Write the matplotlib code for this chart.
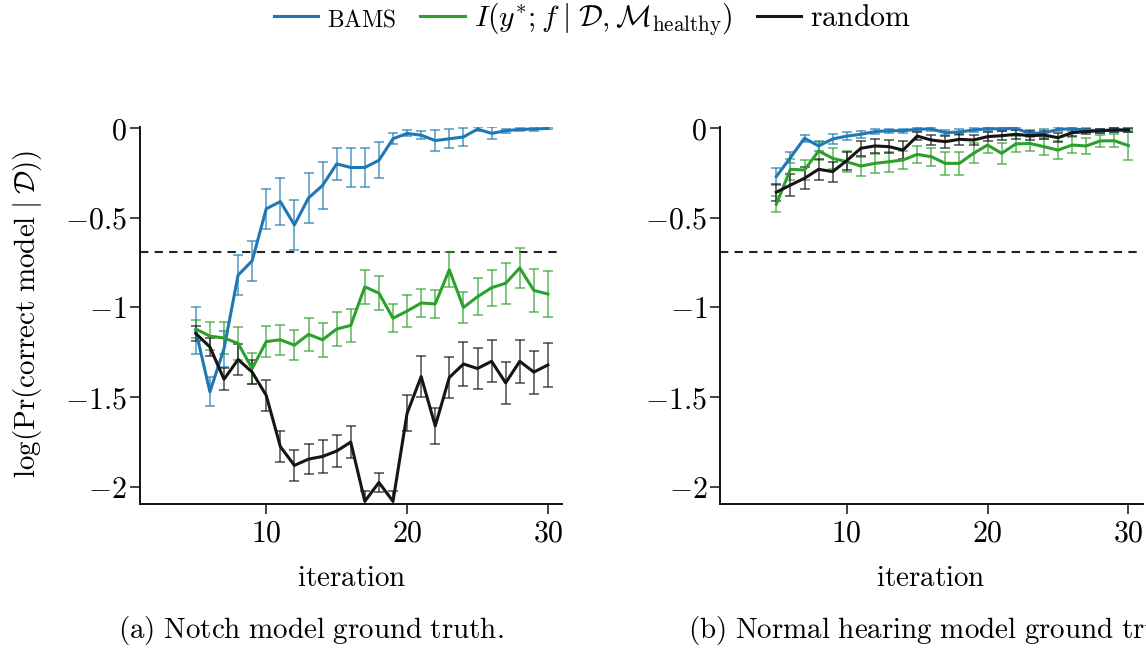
import numpy as np
import matplotlib
matplotlib.use("Agg")
import matplotlib.pyplot as plt
from matplotlib.lines import Line2D

plt.rcParams['mathtext.fontset'] = 'cm'
plt.rcParams['font.family'] = ['DejaVu Serif']

iterations = list(range(5, 31))

# (a) Notch model ground truth
bams_a = [-1.13, -1.47, -1.23, -0.82, -0.74, -0.45, -0.41, -0.54, -0.39, -0.32, -0.20, -0.22, -0.22,
          -0.18, -0.06, -0.03, -0.04, -0.07, -0.06, -0.05, -0.006, -0.03, -0.015, -0.008, -0.006, -0.002]
bams_a_err = [0.13, 0.08, 0.10, 0.11, 0.11, 0.11, 0.13, 0.14, 0.14, 0.13, 0.09, 0.11, 0.11,
              0.10, 0.03, 0.017, 0.022, 0.06, 0.054, 0.052, 0.01, 0.033, 0.012, 0.01, 0.008, 0.005]
info_a = [-1.12, -1.16, -1.17, -1.20, -1.34, -1.19, -1.18, -1.21, -1.15, -1.18, -1.12, -1.10, -0.885,
          -0.92, -1.06, -1.02, -0.975, -0.98, -0.79, -1.00, -0.94, -0.89, -0.865, -0.78, -0.905, -0.925]
info_a_err = [0.05, 0.078, 0.088, 0.09, 0.086, 0.085, 0.083, 0.083, 0.093, 0.096, 0.096, 0.092, 0.095,
              0.093, 0.079, 0.088, 0.08, 0.08, 0.098, 0.088, 0.104, 0.1, 0.113, 0.109, 0.118, 0.13]
random_a = [-1.145, -1.22, -1.40, -1.29, -1.36, -1.49, -1.775, -1.88, -1.845, -1.83, -1.80, -1.75, -2.08,
            -1.975, -2.08, -1.59, -1.385, -1.66, -1.39, -1.315, -1.34, -1.30, -1.42, -1.30, -1.36, -1.32]
random_a_err = [0.04, 0.05, 0.062, 0.089, 0.065, 0.088, 0.085, 0.086, 0.084, 0.094, 0.09, 0.087, 0.06,
                0.055, 0.06, 0.10, 0.116, 0.10, 0.115, 0.124, 0.115, 0.117, 0.118, 0.119, 0.12, 0.123]

# (b) Normal hearing model ground truth
bams_b = [-0.27, -0.165, -0.057, -0.10, -0.061, -0.045, -0.035, -0.02, -0.015, -0.015, -0.007, -0.005, -0.026,
          -0.022, -0.011, -0.004, -0.005, -0.002, -0.03, -0.028, -0.007, -0.005, -0.011, -0.016, -0.011, -0.013]
bams_b_err = [0.046, 0.03, 0.02, 0.026, 0.03, 0.02, 0.02, 0.015, 0.012, 0.012, 0.01, 0.01, 0.015,
              0.015, 0.012, 0.01, 0.012, 0.01, 0.02, 0.02, 0.01, 0.01, 0.012, 0.012, 0.01, 0.01]
info_b = [-0.425, -0.23, -0.234, -0.128, -0.169, -0.188, -0.212, -0.197, -0.188, -0.178, -0.147, -0.16, -0.197,
          -0.197, -0.141, -0.095, -0.141, -0.089, -0.086, -0.104, -0.123, -0.095, -0.10, -0.072, -0.071, -0.098]
info_b_err = [0.045, 0.058, 0.056, 0.05, 0.058, 0.059, 0.053, 0.051, 0.056, 0.049, 0.046, 0.051, 0.065,
              0.065, 0.056, 0.046, 0.06, 0.042, 0.041, 0.044, 0.049, 0.045, 0.045, 0.035, 0.037, 0.08]
random_b = [-0.358, -0.318, -0.28, -0.23, -0.243, -0.182, -0.113, -0.10, -0.104, -0.123, -0.045, -0.067, -0.076,
            -0.063, -0.067, -0.048, -0.043, -0.035, -0.043, -0.039, -0.054, -0.026, -0.02, -0.015, -0.011, -0.011]
random_b_err = [0.048, 0.06, 0.061, 0.06, 0.056, 0.051, 0.042, 0.037, 0.037, 0.05, 0.024, 0.028, 0.033,
                0.03, 0.028, 0.025, 0.025, 0.025, 0.025, 0.025, 0.025, 0.02, 0.015, 0.012, 0.012, 0.01]

chance_level = np.log(0.5)
yticks = [0, -0.5, -1, -1.5, -2]
ytick_labels = [r'$0$', r'$-0.5$', r'$-1$', r'$-1.5$', r'$-2$']
xticks = [10, 20, 30]
xtick_labels = [r'$10$', r'$20$', r'$30$']

series_names = [r'$\mathrm{BAMS}$',
                r'$I(y^{*}; f \;|\; \mathcal{D}, \mathcal{M}_{\mathrm{healthy}})$',
                r'$\mathrm{random}$']
colors = ['#1f77b4', '#2ca02c', '#151515']
captions = [r'$\mathrm{(a)\ Notch\ model\ ground\ truth.}$',
            r'$\mathrm{(b)\ Normal\ hearing\ model\ ground\ truth.}$']
ylabel_text = r'$\log(\mathrm{Pr}(\mathrm{correct\ model} \;|\; \mathcal{D}))$'

FS = 21.5
FS_CAP = 20.9
W, H = 1146, 648
fig = plt.figure(figsize=(W / 100, H / 100), dpi=100)

ax_w = 422.5 / W
ax_h = (504 - 127) / H
ax_b = 1 - 504 / H
axes = [fig.add_axes([139.5 / W, ax_b, ax_w, ax_h]),
        fig.add_axes([720 / W, ax_b, ax_w, ax_h])]

panel_data = [
    [(bams_a, bams_a_err), (info_a, info_a_err), (random_a, random_a_err)],
    [(bams_b, bams_b_err), (info_b, info_b_err), (random_b, random_b_err)],
]

for ax, pdata in zip(axes, panel_data):
    ax.axhline(chance_level, color='#222222', lw=1.5, dashes=(4, 3), zorder=1)
    for (vals, errs), c in zip(pdata, colors):
        ax.errorbar(iterations, vals, yerr=errs, fmt='none', ecolor=c, elinewidth=1.3,
                    capsize=3.8, capthick=1.3, alpha=0.65, zorder=2)
        ax.plot(iterations, vals, color=c, lw=2.2, zorder=3)
    ax.set_xlim(1, 31)
    ax.set_ylim(-2.095, 0.0056)
    ax.set_yticks(yticks)
    ax.set_yticklabels(ytick_labels)
    ax.set_xticks(xticks)
    ax.set_xticklabels(xtick_labels)
    for s in ['top', 'right']:
        ax.spines[s].set_visible(False)
    for s in ['left', 'bottom']:
        ax.spines[s].set_linewidth(1.4)
        ax.spines[s].set_color('#111111')
    ax.tick_params(direction='out', length=7.2, width=1.1, labelsize=FS, color='#111111')
    ax.tick_params(axis='y', pad=2)
    ax.tick_params(axis='x', pad=4)
    ax.patch.set_visible(False)

for cx in [351.5, 931]:
    fig.text(cx / W, 1 - 578 / H, r'$\mathrm{iteration}$', ha='center', va='center', fontsize=FS_CAP)

fig.text(27 / W, 1 - 313.5 / H, ylabel_text, rotation=90, ha='center', va='center', fontsize=FS_CAP)

fig.text(118 / W, 1 - 630 / H, captions[0], ha='left', va='center', fontsize=FS_CAP)
fig.text(688 / W, 1 - 630 / H, captions[1], ha='left', va='center', fontsize=FS_CAP)

handles = [Line2D([], [], color=c, lw=2.2) for c in colors]
leg = fig.legend(handles, series_names, loc='center', bbox_to_anchor=(592.5 / W, 1 - 19 / H),
                 ncol=3, frameon=False, fontsize=FS, handlelength=1.5, handletextpad=0.3,
                 columnspacing=0.8, borderpad=0, borderaxespad=0)
leg.get_texts()[0].set_fontsize(16.8)

fig.savefig('out.png', dpi=100)
